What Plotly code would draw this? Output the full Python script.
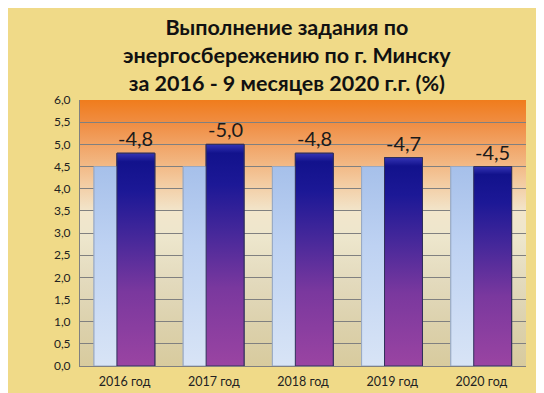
import base64
import plotly.graph_objects as go

# ---- data ----
categories = ["2016 год", "2017 год", "2018 год", "2019 год", "2020 год"]
plan_values = [4.5, 4.5, 4.5, 4.5, 4.5]
actual_values = [4.8, 5.0, 4.8, 4.7, 4.5]
label_texts = ["-4,8", "-5,0", "-4,8", "-4,7", "-4,5"]
y_tickvals = [0.0, 0.5, 1.0, 1.5, 2.0, 2.5, 3.0, 3.5, 4.0, 4.5, 5.0, 5.5, 6.0]
title_lines = ["Выполнение задания по", "энергосбережению по г. Минску",
               "за 2016 - 9 месяцев 2020 г.г. (%)"]

# ---- layout constants ----
BAR_W = 0.425
PLAN_OFF = -0.343
ACT_OFF = -0.086
xs = list(range(len(categories)))

fig = go.Figure()

fig.add_trace(go.Bar(x=xs, y=plan_values, width=BAR_W, offset=PLAN_OFF,
                     marker=dict(color="#c2d5f2", line=dict(color="#9aaac4", width=1)),
                     name="план", showlegend=False))
fig.add_trace(go.Bar(x=xs, y=actual_values, width=BAR_W, offset=ACT_OFF,
                     marker=dict(color="#4a2a9a", line=dict(color="#2a2a5a", width=1)),
                     name="факт", showlegend=False))

# gradient overlays computed from the same data
def grad_overlay(x, v, off, scale, line_color):
    x0 = x + off
    x1 = x0 + BAR_W
    fig.add_trace(go.Scatter(
        x=[x0, x1, x1, x0, x0], y=[0, 0, v, v, 0], mode="lines", fill="toself",
        line=dict(color=line_color, width=1),
        fillgradient=dict(type="vertical", colorscale=scale, start=0, stop=v),
        hoverinfo="skip", showlegend=False))

plan_scale = [[0, "#d8e4f6"], [0.6, "#bed2f2"], [1, "#a6c0ea"]]
act_scale = [[0, "#9a44a2"], [0.35, "#7a389e"], [0.6, "#46289a"], [0.82, "#1c1896"], [0.96, "#12128c"], [1, "#3434b4"]]
for x, v in zip(xs, plan_values):
    grad_overlay(x, v, PLAN_OFF, plan_scale, "#98a8c2")
for x, v in zip(xs, actual_values):
    grad_overlay(x, v, ACT_OFF, act_scale, "#30305a")

annotations = []
for x, v, t in zip(xs, actual_values, label_texts):
    annotations.append(dict(x=x + ACT_OFF + BAR_W / 2, y=v, xref="x", yref="y",
                            text=t, showarrow=False, yanchor="bottom", yshift=1,
                            font=dict(family="Lato, Liberation Sans, sans-serif", size=20, color="#1a1a1a")))

annotations.append(dict(x=0.465, y=1.17, xref="paper", yref="paper",
                        text="<br>".join("<b>%s</b>" % s for s in title_lines), showarrow=False,
                        xanchor="center", yanchor="middle", align="center",
                        font=dict(family="Lato, Liberation Sans, sans-serif", size=21.5, color="#111111")))

svg = ('<svg xmlns="http://www.w3.org/2000/svg" width="100" height="100" preserveAspectRatio="none">'
       '<defs><linearGradient id="g" x1="0" y1="0" x2="0" y2="1">'
       '<stop offset="0" stop-color="#f07c1c"/>'
       '<stop offset="0.09" stop-color="#f08e44"/>'
       '<stop offset="0.17" stop-color="#f1a466"/>'
       '<stop offset="0.30" stop-color="#f3c89c"/>'
       '<stop offset="0.42" stop-color="#f2e6cc"/>'
       '<stop offset="0.52" stop-color="#ede6cc"/>'
       '<stop offset="0.68" stop-color="#e3dabd"/>'
       '<stop offset="0.85" stop-color="#dcd1ac"/>'
       '<stop offset="1" stop-color="#d8cb9e"/>'
       '</linearGradient></defs><rect width="100" height="100" fill="url(#g)"/></svg>')
src = "data:image/svg+xml;base64," + base64.b64encode(svg.encode()).decode()

fig.update_layout(
    width=544, height=393,
    margin=dict(l=72, r=26, t=92, b=35),
    paper_bgcolor="#f0da88",
    plot_bgcolor="rgba(0,0,0,0)",
    barmode="overlay",
    separators=", ",
    annotations=annotations,
    images=[dict(source=src, xref="paper", yref="paper", x=0, y=1, sizex=1, sizey=1,
                 sizing="stretch", layer="below", xanchor="left", yanchor="top")],
    font=dict(family="Lato, Liberation Sans, sans-serif", size=12, color="#222222"),
)
fig.update_xaxes(range=[-0.5, 4.5], tickvals=xs, ticktext=categories, showgrid=False,
                 zeroline=False, showline=True, linecolor="#808080", linewidth=1,
                 ticks="outside", ticklen=4, tickcolor="rgba(0,0,0,0)",
                 tickfont=dict(size=12.5))
fig.update_yaxes(range=[0, 6], tickvals=y_tickvals, tickformat=".1f", showgrid=True,
                 gridcolor="#808080", gridwidth=1, zeroline=False, showline=True,
                 linecolor="#808080", linewidth=1, ticks="outside", ticklen=6,
                 tickcolor="rgba(0,0,0,0)", tickfont=dict(size=12))

fig.write_html("out.html")
